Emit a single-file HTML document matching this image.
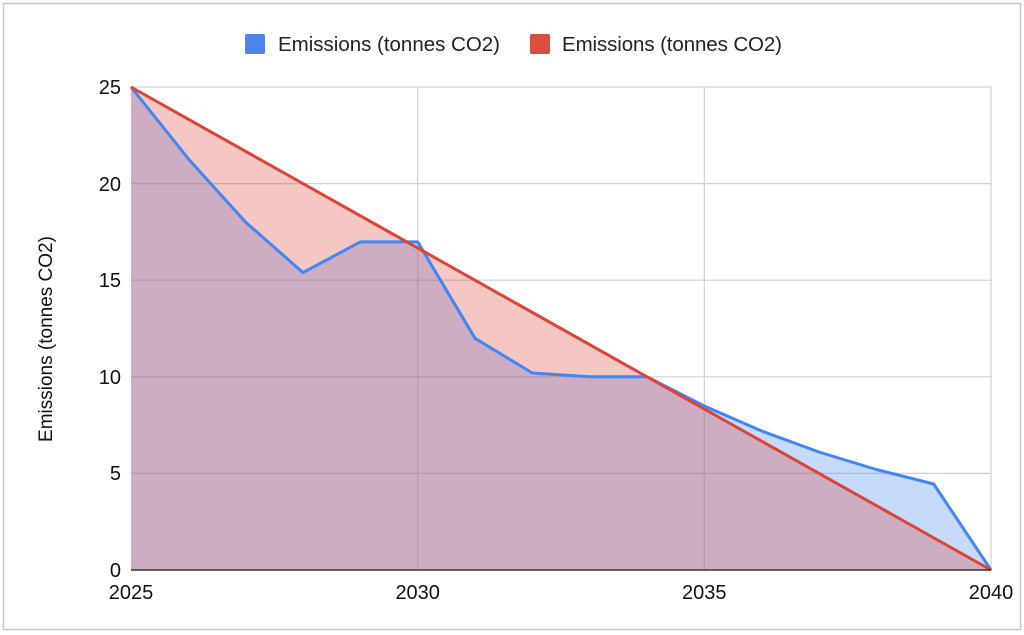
<!DOCTYPE html>
<html><head><meta charset="utf-8"><style>
html,body{margin:0;padding:0;background:#fff;}
svg{display:block;font-family:"Liberation Sans",Arial,sans-serif;}
</style></head><body>
<svg width="1024" height="635" viewBox="0 0 1024 635">
<rect x="0" y="0" width="1024" height="635" fill="#fff"/>
<rect x="3.5" y="3.5" width="1017" height="626" fill="#fff" stroke="#c8c8c8" stroke-width="1.5"/>
<g stroke="#d0d0d0" stroke-width="1.2">
<line x1="131" y1="87" x2="991" y2="87"/>
<line x1="131" y1="183.6" x2="991" y2="183.6"/>
<line x1="131" y1="280.2" x2="991" y2="280.2"/>
<line x1="131" y1="376.8" x2="991" y2="376.8"/>
<line x1="131" y1="473.4" x2="991" y2="473.4"/>
<line x1="417.7" y1="87" x2="417.7" y2="570"/>
<line x1="704.3" y1="87" x2="704.3" y2="570"/>
<line x1="991" y1="87" x2="991" y2="570"/>
</g>
<polygon points="131,87 188.3,158.7 245.7,222.2 303,272.6 360.3,241.9 417.7,241.9 475,338.3 532.3,373 589.7,376.8 647,376.8 704.3,406 761.7,431 819,452 876.3,469.5 933.7,484 991,570 131,570" fill="#4285f4" fill-opacity="0.3"/>
<polygon points="131,87 991,570 131,570" fill="#db4437" fill-opacity="0.3"/>
<polyline points="131,87 188.3,158.7 245.7,222.2 303,272.6 360.3,241.9 417.7,241.9 475,338.3 532.3,373 589.7,376.8 647,376.8 704.3,406 761.7,431 819,452 876.3,469.5 933.7,484 991,570" fill="none" stroke="#4285f4" stroke-width="3" stroke-linejoin="round"/>
<line x1="131" y1="87" x2="991" y2="570" stroke="#db4437" stroke-width="3"/>
<line x1="131" y1="570" x2="991" y2="570" stroke="#333" stroke-width="1.5"/>
<g font-size="20" fill="#111" text-anchor="end">
<text x="121" y="94">25</text>
<text x="121" y="191">20</text>
<text x="121" y="287">15</text>
<text x="121" y="384">10</text>
<text x="121" y="480">5</text>
<text x="121" y="577">0</text>
</g>
<g font-size="20" fill="#111" text-anchor="middle">
<text x="131" y="599">2025</text>
<text x="417.7" y="599">2030</text>
<text x="704.3" y="599">2035</text>
<text x="991" y="599">2040</text>
</g>
<text transform="translate(52,339) rotate(-90)" font-size="19" fill="#111" text-anchor="middle">Emissions (tonnes CO2)</text>
<rect x="245" y="34" width="20" height="20" rx="2" fill="#4f83ec"/>
<text x="278" y="51" font-size="20.5" fill="#222" textLength="222">Emissions (tonnes CO2)</text>
<rect x="530" y="34" width="20" height="20" rx="2" fill="#d9503f"/>
<text x="562" y="51" font-size="20.5" fill="#222" textLength="220">Emissions (tonnes CO2)</text>
</svg>
</body></html>
